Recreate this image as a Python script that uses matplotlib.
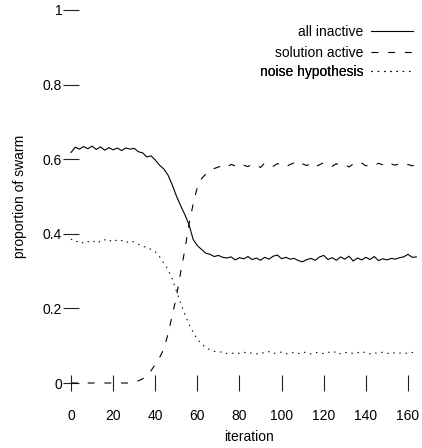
import matplotlib
matplotlib.use("Agg")
import matplotlib.pyplot as plt
import numpy as np

plt.rcParams['font.family'] = ['Liberation Sans', 'DejaVu Sans']
plt.rcParams['lines.scale_dashes'] = False

iteration = np.arange(0, 166, 2)

all_inactive = [
    0.618, 0.632, 0.627, 0.634, 0.628, 0.635, 0.626, 0.633, 0.624, 0.631,
    0.625, 0.630, 0.623, 0.630, 0.627, 0.629, 0.620, 0.617, 0.606, 0.609,
    0.598, 0.584, 0.574, 0.558, 0.532, 0.502, 0.476, 0.452, 0.425, 0.385,
    0.368, 0.358, 0.348, 0.345, 0.339, 0.342, 0.337, 0.335, 0.338, 0.330,
    0.336, 0.333, 0.339, 0.331, 0.335, 0.329, 0.337, 0.332, 0.340, 0.343,
    0.333, 0.337, 0.332, 0.334, 0.328, 0.325, 0.331, 0.334, 0.329, 0.338,
    0.342, 0.331, 0.336, 0.329, 0.338, 0.332, 0.340, 0.327, 0.335, 0.330,
    0.337, 0.331, 0.339, 0.328, 0.333, 0.330, 0.334, 0.332, 0.336, 0.338,
    0.345, 0.337, 0.338,
]
solution_active = [
    0.0, 0.0, 0.0, 0.0, 0.0, 0.0, 0.0, 0.0, 0.0, 0.0,
    0.0, 0.0, 0.0, 0.0, 0.0, 0.002, 0.006, 0.011, 0.020, 0.033,
    0.050, 0.068, 0.090, 0.130, 0.180, 0.230, 0.295, 0.355, 0.425, 0.480,
    0.525, 0.548, 0.560, 0.570, 0.575, 0.579, 0.583, 0.578, 0.586, 0.582,
    0.589, 0.584, 0.580, 0.587, 0.583, 0.578, 0.590, 0.585, 0.581, 0.588,
    0.584, 0.579, 0.586, 0.590, 0.582, 0.587, 0.583, 0.589, 0.580, 0.585,
    0.591, 0.584, 0.581, 0.588, 0.583, 0.586, 0.579, 0.587, 0.584, 0.590,
    0.582, 0.586, 0.583, 0.589, 0.585, 0.580, 0.587, 0.584, 0.588, 0.583,
    0.586, 0.582, 0.587,
]
noise_hypothesis = [
    0.386, 0.378, 0.381, 0.374, 0.379, 0.376, 0.383, 0.377, 0.384, 0.379,
    0.386, 0.380, 0.382, 0.376, 0.381, 0.378, 0.372, 0.366, 0.364, 0.358,
    0.352, 0.339, 0.322, 0.305, 0.280, 0.247, 0.215, 0.185, 0.158, 0.136,
    0.117, 0.104, 0.095, 0.089, 0.085, 0.082, 0.084, 0.079, 0.081, 0.078,
    0.080, 0.083, 0.079, 0.081, 0.078, 0.082, 0.080, 0.084, 0.079, 0.081,
    0.083, 0.078, 0.080, 0.082, 0.079, 0.084, 0.080, 0.078, 0.082, 0.081,
    0.079, 0.083, 0.080, 0.085, 0.078, 0.081, 0.083, 0.079, 0.082, 0.080,
    0.084, 0.078, 0.081, 0.079, 0.083, 0.080, 0.078, 0.082, 0.080, 0.081,
    0.079, 0.082, 0.080,
]

xticks = [0, 20, 40, 60, 80, 100, 120, 140, 160]
yticks = [0, 0.2, 0.4, 0.6, 0.8, 1]
ytick_labels = ["0", "0.2", "0.4", "0.6", "0.8", "1"]

fig = plt.figure(figsize=(4.22, 4.48), dpi=100)
ax = fig.add_axes([0.1583, 0.1201, 0.8384, 0.8743])

lines = []
lines += ax.plot(iteration, all_inactive, color="black", lw=0.8, label="all inactive")
lines += ax.plot(iteration, solution_active, color="black", lw=0.8, dashes=(5, 7), label="solution active")
lines += ax.plot(iteration, noise_hypothesis, color="black", lw=0.8, dashes=(1, 3.5), label="noise hypothesis")

ax.set_xlim(-2, 166)
ax.set_ylim(-0.03, 1.02)

# lattice-like axes: no frame, ticks crossing at the zero lines
for side in ["top", "right"]:
    ax.spines[side].set_visible(False)
ax.spines["left"].set_position(("data", 0))
ax.spines["bottom"].set_position(("data", 0))
ax.spines["left"].set_visible(False)
ax.spines["bottom"].set_visible(False)

ax.set_xticks(xticks)
ax.set_yticks(yticks)
ax.set_yticklabels(ytick_labels)
ax.tick_params(axis="x", direction="inout", length=11, width=0.8, pad=13, labelsize=10, color="#222222")
ax.tick_params(axis="y", direction="inout", length=12, width=0.8, pad=0.4, labelsize=10, color="#222222")

# one legend per row so that labels are right-aligned against their keys
row_y = [31.7, 52.7, 71.7]
for line, y in zip(lines, row_y):
    leg = ax.legend(handles=[line], loc="center right", bbox_to_anchor=(413 / 422, 1 - y / 448),
                    bbox_transform=fig.transFigure, frameon=False, markerfirst=False,
                    fontsize=10, handlelength=3.0, handletextpad=0.55,
                    borderpad=0, borderaxespad=0)
    ax.add_artist(leg)

fig.text(20 / 422, 1 - 196 / 448, "proportion of swarm", rotation=90, ha="center", va="center", fontsize=10)
fig.text(249 / 422, 1 - 437 / 448, "iteration", ha="center", va="center", fontsize=10)

fig.savefig("out.png", dpi=100)
